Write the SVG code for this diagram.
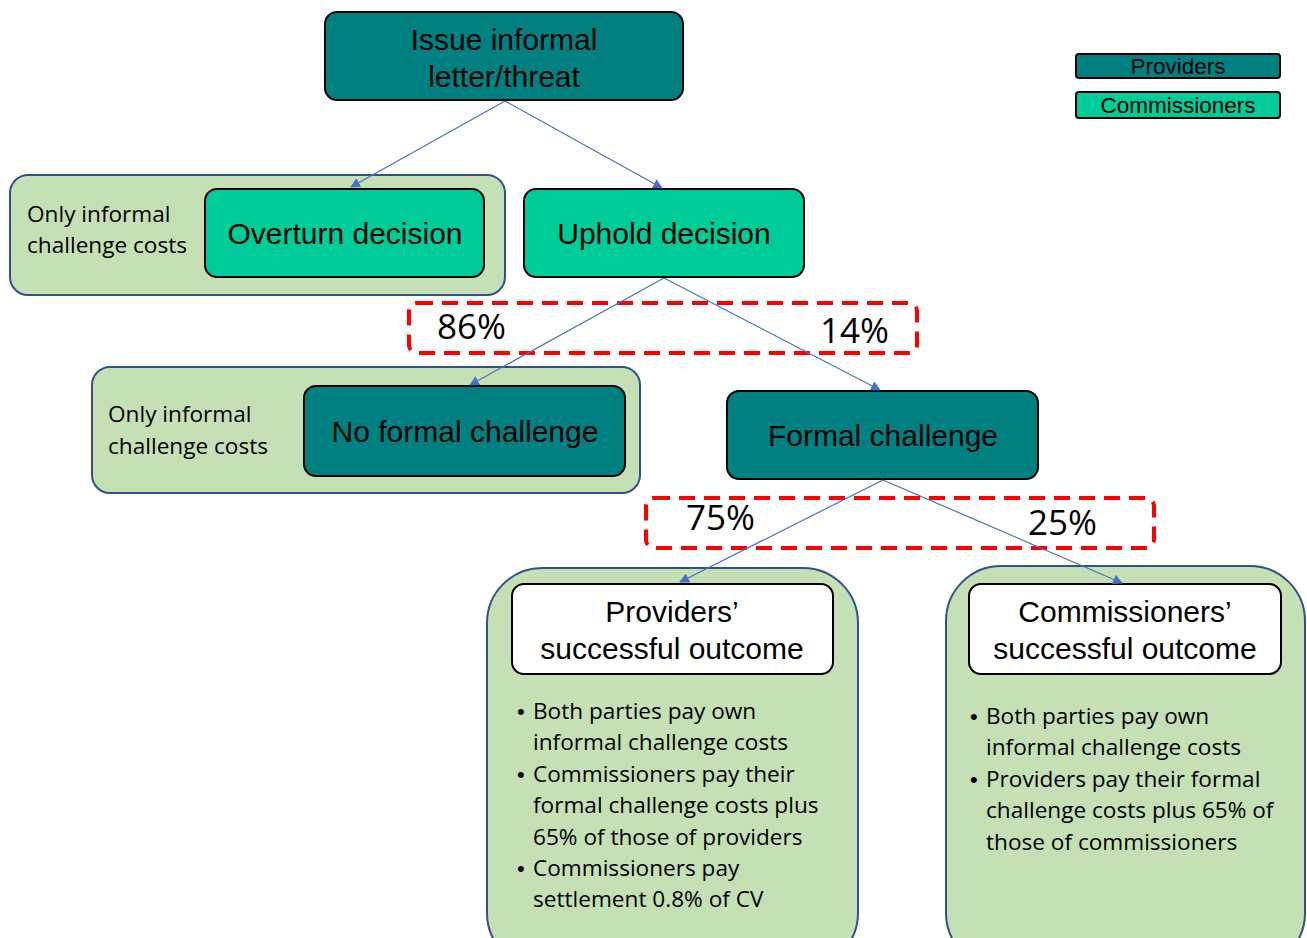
<svg xmlns="http://www.w3.org/2000/svg" width="1307" height="938" viewBox="0 0 1307 938">
<style>
.prov{fill:#008080;stroke:#000;stroke-width:2}
.comm{fill:#00CC99;stroke:#000;stroke-width:2}
.white{fill:#fff;stroke:#000;stroke-width:2}
.cont{fill:#C5E0B4;stroke:#2F528F;stroke-width:2}
.dash{fill:none;stroke:#FF0000;stroke-width:4;stroke-dasharray:16 9}
.conn{stroke:#4472C4;stroke-width:1.2;fill:none;marker-end:url(#arr)}
.a{font-family:"Liberation Sans",Arial,sans-serif;fill:#000;font-size:30px}
.c{font-family:"Open Sans",Lato,sans-serif;fill:#000;font-size:22.6px}
.b{font-family:"Liberation Sans",Arial,sans-serif;fill:#000;font-size:22px}
.pct{font-family:"Open Sans",Lato,sans-serif;fill:#000;font-size:35px}
</style>
<defs>
<marker id="arr" viewBox="0 0 10 10" refX="9" refY="5" markerWidth="10" markerHeight="10" markerUnits="userSpaceOnUse" orient="auto">
<path d="M0,0 L10,5 L0,10 z" fill="#4472C4"/>
</marker>
</defs>
<rect width="1307" height="938" fill="#fff"/>

<g id="legend">
<rect class="prov" x="1076" y="54" width="204" height="24" rx="3"/>
<text class="a" x="1178" y="74" style="font-size:22.5px" text-anchor="middle">Providers</text>
<rect class="comm" x="1076" y="92" width="204" height="26" rx="3"/>
<text class="a" x="1178" y="113" style="font-size:22.5px" text-anchor="middle">Commissioners</text>
</g>

<g id="issue">
<rect class="prov" x="325" y="12" width="358" height="88" rx="12"/>
<text class="a" x="504" y="50" text-anchor="middle">Issue informal</text>
<text class="a" x="504" y="87" text-anchor="middle">letter/threat</text>
</g>

<g id="overturn-group">
<rect class="cont" x="10" y="175" width="495" height="120" rx="18"/>
<text class="c" x="27" y="222">Only informal</text>
<text class="c" x="27" y="253">challenge costs</text>
</g>
<g id="overturn">
<rect class="comm" x="205" y="189" width="279" height="88" rx="12"/>
<text class="a" x="345" y="244" text-anchor="middle">Overturn decision</text>
</g>

<g id="uphold">
<rect class="comm" x="524" y="189" width="280" height="88" rx="12"/>
<text class="a" x="664" y="244" text-anchor="middle">Uphold decision</text>
</g>

<g id="pct1">
<rect class="dash" x="409" y="303" width="508" height="50" rx="8"/>
<text class="pct" x="437" y="339">86%</text>
<text class="pct" x="820" y="343">14%</text>
</g>

<g id="noformal-group">
<rect class="cont" x="92" y="367" width="548" height="126" rx="18"/>
<text class="c" x="108" y="422">Only informal</text>
<text class="c" x="108" y="454">challenge costs</text>
</g>
<g id="noformal">
<rect class="prov" x="304" y="386" width="321" height="90" rx="12"/>
<text class="a" x="465" y="442" text-anchor="middle">No formal challenge</text>
</g>

<g id="formal">
<rect class="prov" x="727" y="391" width="311" height="88" rx="12"/>
<text class="a" x="883" y="446" text-anchor="middle">Formal challenge</text>
</g>

<g id="pct2">
<rect class="dash" x="646" y="498" width="508" height="50" rx="8"/>
<text class="pct" x="686" y="530">75%</text>
<text class="pct" x="1028" y="535">25%</text>
</g>

<g id="provout-group">
<rect class="cont" x="487" y="568" width="371" height="400" rx="55"/>
<g class="b">
<text x="517" y="719">•</text>
<text x="517" y="782">•</text>
<text x="517" y="876">•</text>
</g>
<g class="c">
<text x="533" y="719">Both parties pay own</text>
<text x="533" y="750">informal challenge costs</text>
<text x="533" y="782">Commissioners pay their</text>
<text x="533" y="813">formal challenge costs plus</text>
<text x="533" y="845">65% of those of providers</text>
<text x="533" y="876">Commissioners pay</text>
<text x="533" y="907">settlement 0.8% of CV</text>
</g>
</g>
<g id="provout">
<rect class="white" x="512" y="584" width="321" height="90" rx="12"/>
<text class="a" x="672" y="622" text-anchor="middle">Providers’</text>
<text class="a" x="672" y="659" text-anchor="middle">successful outcome</text>
</g>

<g id="commout-group">
<rect class="cont" x="946" y="566" width="359" height="402" rx="55"/>
<g class="b">
<text x="970" y="724">•</text>
<text x="970" y="787">•</text>
</g>
<g class="c">
<text x="986" y="724">Both parties pay own</text>
<text x="986" y="755">informal challenge costs</text>
<text x="986" y="787">Providers pay their formal</text>
<text x="986" y="818">challenge costs plus 65% of</text>
<text x="986" y="850">those of commissioners</text>
</g>
</g>
<g id="commout">
<rect class="white" x="969" y="584" width="312" height="90" rx="12"/>
<text class="a" x="1125" y="622" text-anchor="middle">Commissioners’</text>
<text class="a" x="1125" y="659" text-anchor="middle">successful outcome</text>
</g>

<g id="connectors">
<line class="conn" x1="505" y1="101" x2="351" y2="187"/>
<line class="conn" x1="505" y1="101" x2="662" y2="188"/>
<line class="conn" x1="664" y1="278" x2="470" y2="385"/>
<line class="conn" x1="664" y1="278" x2="880" y2="390"/>
<line class="conn" x1="883" y1="480" x2="680" y2="582"/>
<line class="conn" x1="883" y1="480" x2="1122" y2="583"/>
</g>
</svg>
